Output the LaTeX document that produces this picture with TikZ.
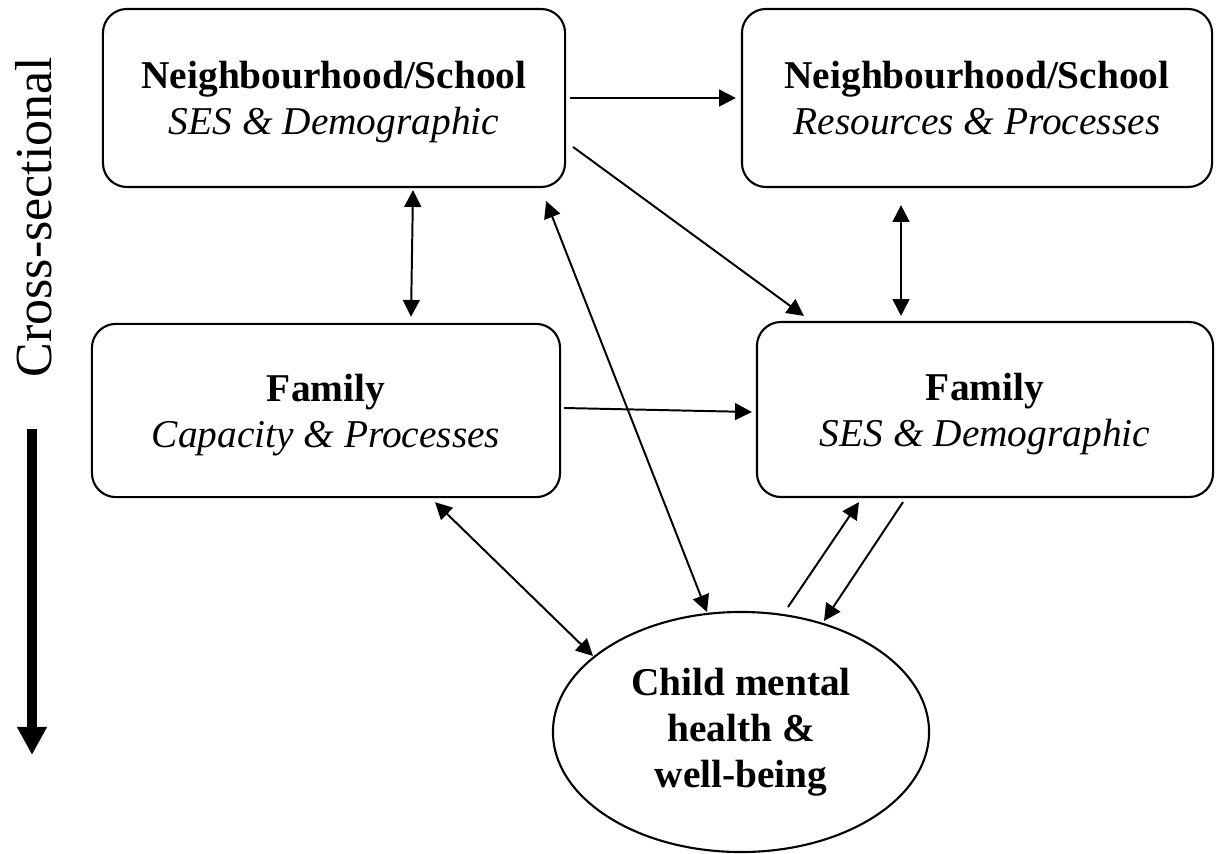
\documentclass[tikz,border=0pt]{standalone}
\usepackage{fontspec}
\setmainfont{Liberation Serif}
\usetikzlibrary{arrows.meta, shapes.geometric, positioning, calc}

\begin{document}
\begin{tikzpicture}[x=0.025cm, y=-0.025cm,
    box/.style={draw, line width=1.5pt, rounded corners=0.6cm, align=center, inner sep=0pt, text depth=-3.5pt, font=\fontsize{28}{32.6}\selectfont},
    oval/.style={draw, ellipse, line width=1.5pt, align=center, inner sep=0pt, font=\fontsize{28}{32.6}\selectfont\bfseries},
    arr/.style={line width=1.4pt, -{Triangle[length=12pt,width=12pt]}},
    biarr/.style={line width=1.4pt, {Triangle[length=12pt,width=12pt]}-{Triangle[length=12pt,width=12pt]}}]
    \useasboundingbox (0,0) rectangle (1220,853);

    % Draw the boxes
    \node[box, minimum width=11.55cm, minimum height=4.45cm] (nsdem) at (334,98) {\textbf{Neighbourhood/School}\\\textit{SES \& Demographic}};
    \node[box, minimum width=11.75cm, minimum height=4.45cm] (nsres) at (977,98) {\textbf{Neighbourhood/School}\\\textit{Resources \& Processes}};
    \node[box, minimum width=11.7cm, minimum height=4.33cm] (famcap) at (326,410.5) {\textbf{Family}\\\textit{Capacity \& Processes}};
    \node[box, minimum width=11.4cm, minimum height=4.375cm] (famses) at (985,409.5) {\textbf{Family}\\\textit{SES \& Demographic}};
    \node[oval, minimum width=9.4cm, minimum height=6cm] (child) at (741,732) {Child mental\\health \&\\well-being};

    % Add time axis
    \node[rotate=90, font=\fontsize{37}{40}\selectfont] (xsec) at (34,217) {Cross-sectional};
    \coordinate (down top) at (32,429);
    \coordinate (down tip) at (32,755);
    \draw[line width=6.6pt, -{Triangle[length=20pt,width=20pt]}] (down top) -- (down tip);

    % Draw the links
    \draw[arr] ($(nsdem.east)+(4,0)$) -- ($(nsres.west)+(-5,0)$);
    \draw[arr] ($(nsdem.east)+(7,49)$) -- ($(famses.north west)+(48,-5)$);
    \draw[biarr] ($(nsdem.south)+(79,2)$) -- ($(famcap.north)+(85,-6)$);
    \draw[biarr] ($(nsres.south)+(-76,17)$) -- ($(famses.north)+(-84,-5)$);
    \draw[arr] ($(famcap.east)+(3,-2.5)$) -- ($(famses.west)+(-4,2.5)$);
    \draw[biarr] ($(child.center)+(-34,-120)$) -- ($(nsdem.south east)+(-20,13)$);
    \draw[biarr] ($(famcap.south)+(109,4)$) -- ($(child.center)+(-148,-76)$);
    \draw[arr] ($(child.center)+(47,-125)$) -- ($(famses.south)+(-126,4)$);
    \draw[arr] ($(famses.south)+(-82,4)$) -- ($(child.center)+(83,-111)$);
\end{tikzpicture}
\end{document}
